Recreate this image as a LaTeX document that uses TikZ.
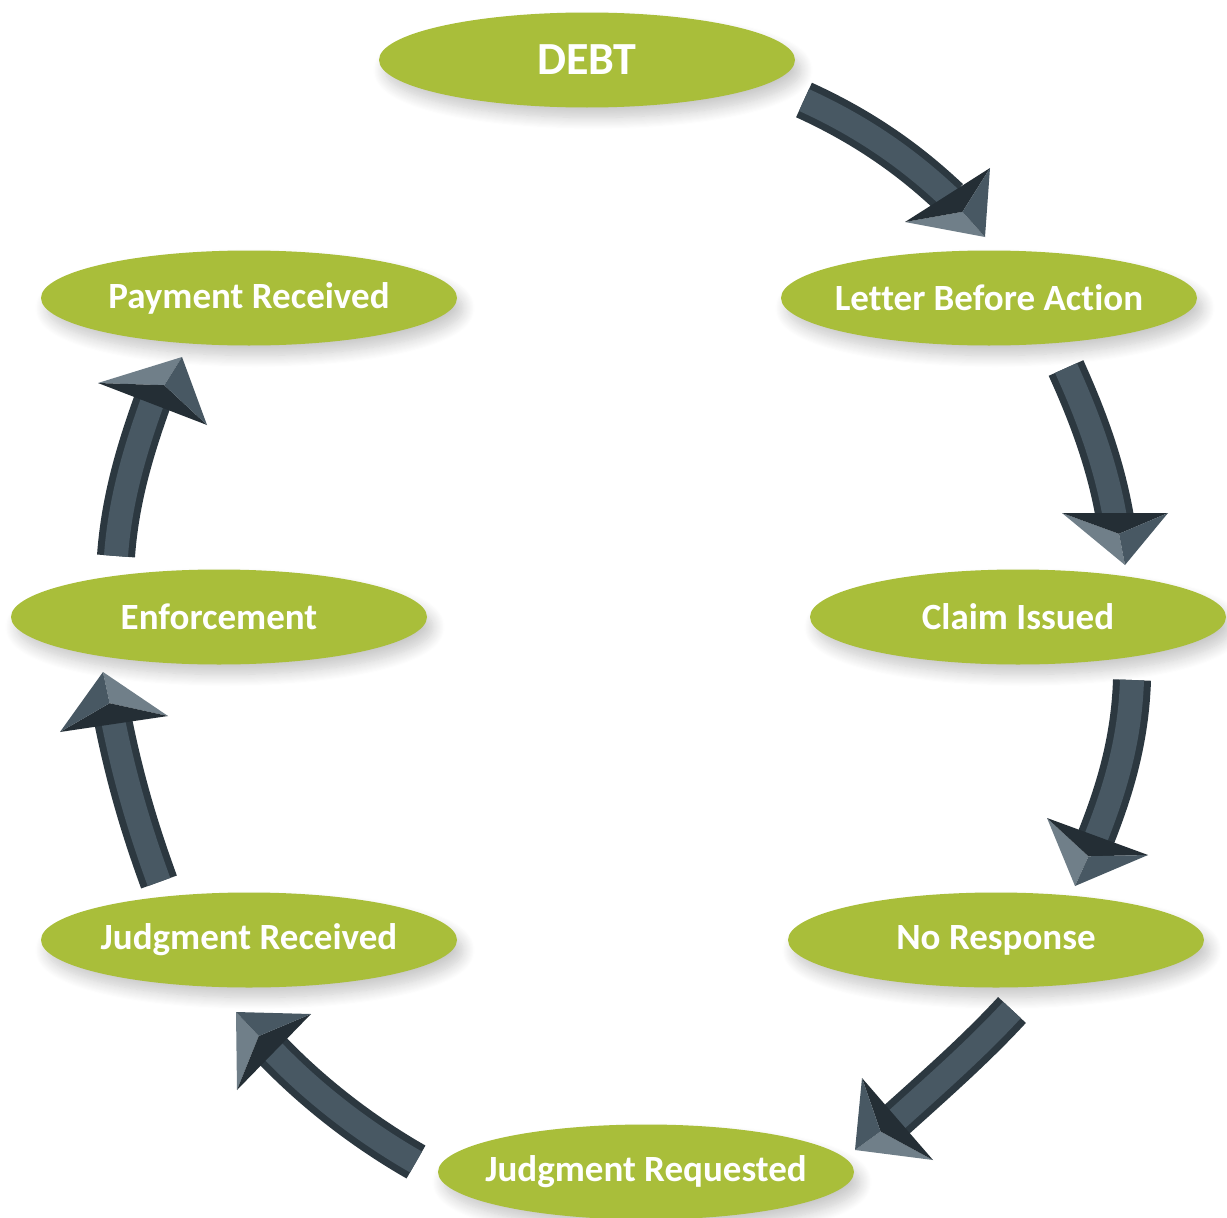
\documentclass[tikz,border=0pt]{standalone}
\usepackage{fontspec}
\setsansfont{Carlito}[Ligatures=NoCommon]
\usetikzlibrary{shapes.geometric,shadows.blur,calc}
\definecolor{leaf}{RGB}{169,190,58}
\definecolor{slateA}{RGB}{44,56,64}
\definecolor{slateB}{RGB}{72,88,99}
\definecolor{slateC}{RGB}{112,127,137}
\definecolor{slateD}{RGB}{36,46,53}
\tikzset{
  stagetext/.style={text=white, font=\sffamily\bfseries\fontsize{37}{42}\selectfont, inner sep=0pt},
  stage/.style={ellipse, fill=leaf, minimum width=416pt, minimum height=95pt,
    inner sep=0pt,
    blur shadow={shadow xshift=6pt, shadow yshift=-10pt, shadow opacity=22,
      shadow blur radius=12pt, shadow blur steps=12},
    label={[stagetext]center:#1}},
  shaftout/.style={line width=38pt, draw=slateA},
  shaftin/.style={line width=24pt, draw=slateB},
}
% beveled arrow head: tip, two base corners
\newcommand{\bevelhead}[3]{%
  \coordinate (hc) at ($0.4*#1+0.3*#2+0.3*#3$);
  \fill[slateC] #1 -- #2 -- (hc) -- cycle;
  \fill[slateD] #2 -- #3 -- (hc) -- cycle;
  \fill[slateB] #3 -- #1 -- (hc) -- cycle;
}
\begin{document}
\begin{tikzpicture}[x=1pt,y=-1pt]
\useasboundingbox (0,0) rectangle (1227,1218);

\node[ellipse, fill=leaf, minimum width=416pt, minimum height=95pt, inner sep=0pt,
  blur shadow={shadow xshift=6pt, shadow yshift=-10pt, shadow opacity=22,
    shadow blur radius=12pt, shadow blur steps=12},
  text=white, font=\sffamily\bfseries\fontsize{46}{50}\selectfont] (debt) at (587,60) {DEBT};
\node[stage={Letter Before Action}] (letter) at (989,298) {};
\node[stage={Claim Issued}] (claim) at (1018,617) {};
\node[stage={No Response}] (noresp) at (996,940) {};
\node[stage={Judgment Requested}] (jreq) at (646,1172) {};
\node[stage={Judgment Received}] (jrec) at (249,940) {};
\node[stage={Enforcement}] (enf) at (219,617) {};
\node[stage={Payment Received}] (pay) at (249,298) {};

% tails and head bases of the connecting arrows
\coordinate (t1) at (804,100);  \coordinate (b1) at (950,198);
\coordinate (t2) at (1066,368); \coordinate (b2) at (1115,518);
\coordinate (t3) at (1132,680); \coordinate (b3) at (1095,840);
\coordinate (t4) at (1012,1010);\coordinate (b4) at (894,1122);
\coordinate (t5) at (416,1162); \coordinate (b5) at (271,1049);
\coordinate (t6) at (159,882);  \coordinate (b6) at (113,720);
\coordinate (t7) at (116,556);  \coordinate (b7) at (153,400);

\foreach \s in {shaftout,shaftin}{
  \draw[\s] (t1) .. controls (870,130) and (915,165) .. (b1);
  \draw[\s] (t2) .. controls (1085,410) and (1105,460) .. (b2);
  \draw[\s] (t3) .. controls (1130,740) and (1115,790) .. (b3);
  \draw[\s] (t4) .. controls (975,1050) and (935,1085) .. (b4);
  \draw[\s] (t5) .. controls (360,1130) and (310,1090) .. (b5);
  \draw[\s] (t6) .. controls (140,830) and (125,780) .. (b6);
  \draw[\s] (t7) .. controls (120,500) and (135,450) .. (b7);
}

\bevelhead{(985,237)}{(905,222)}{(990,168)}
\bevelhead{(1125,565)}{(1062,513)}{(1168,513)}
\bevelhead{(1075,886)}{(1047,818)}{(1148,855)}
\bevelhead{(855,1150)}{(933,1160)}{(862,1078)}
\bevelhead{(236,1012)}{(237,1090)}{(311,1014)}
\bevelhead{(103,672)}{(168,716)}{(60,732)}
\bevelhead{(182,357)}{(98,383)}{(207,425)}
\end{tikzpicture}
\end{document}
